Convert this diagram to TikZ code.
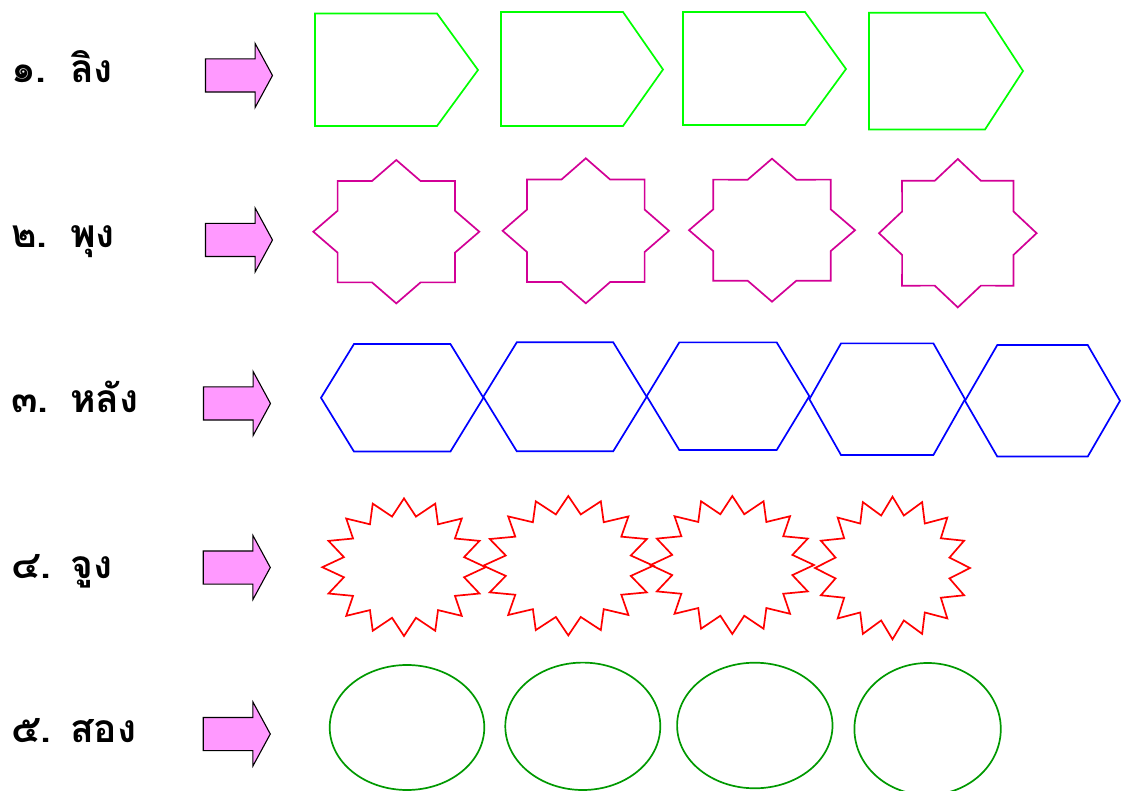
\documentclass[tikz,border=0pt]{standalone}
\usepackage{fontspec}
\newfontfamily\thaifont[Script=Thai]{Loma}
\usetikzlibrary{shapes.arrows}
\definecolor{arrowpink}{RGB}{255,153,255}
\definecolor{limegreen}{RGB}{0,255,0}
\definecolor{starmagenta}{RGB}{210,0,150}
\definecolor{ovalgreen}{RGB}{0,153,0}
\begin{document}
\begin{tikzpicture}[x=1pt,y=-1pt,
wordnode/.style={anchor=base west, inner sep=0pt, font=\thaifont\bfseries\fontsize{39}{41}\selectfont},
pinkarrow/.style={single arrow, draw=black, fill=arrowpink, line width=1.1pt, inner xsep=0pt, inner ysep=16pt, minimum height=67pt, single arrow head extend=15.5pt, single arrow tip angle=123},
homeplate/.style={draw=limegreen, line width=1.7pt, line join=miter},
eightstar/.style={draw=starmagenta, line width=1.7pt},
hexline/.style={draw=blue, line width=1.7pt},
burst/.style={draw=red, line width=1.7pt},
ovalline/.style={draw=ovalgreen, line width=1.7pt},
]
\clip (0,0) rectangle (1125,791);
\fill[white] (0,0) rectangle (1125,791);

\foreach \i/\y/\n/\w in {1/83/๑./ลิง, 2/248/๒./พุง, 3/413/๓./หลัง, 4/578/๔./จูง, 5/742/๕./สอง}{
  \node[wordnode] (num\i) at (11,\y) {\n};
  \node[wordnode] (word\i) at (70,\y) {\w};
}

\foreach \i/\x/\y in {1/234.5/75.5, 2/234.5/240, 3/232.5/403.5, 4/232.3/567.5, 5/232.3/734}
  \node[pinkarrow] (arrow\i) at (\x,\y) {};

\foreach \l/\t/\b/\c/\p/\m in {315/13.5/126/437/478/70, 501/12/126/623/663/69.5, 683/12/125/805/846/69, 869/12.7/129.5/985/1023/71}
  \draw[homeplate] (\l,\t) -- (\c,\t) -- (\p,\m) -- (\c,\b) -- (\l,\b) -- cycle;

\foreach \cx/\cy/\a/\b in {396.3/231.7/83/71.7, 585.8/230.8/83.2/72.5, 772/230.2/83/71.5, 957.8/233.2/78.8/74.2}
  \draw[eightstar, shift={(\cx,\cy)}] (0:{\a} and {\b})
    \foreach \k in {0,...,7} { -- ({\k*45+22.5}:{0.765*\a} and {0.765*\b}) -- ({\k*45+45}:{\a} and {\b}) } -- cycle;

\foreach \cx/\cy/\a/\b/\c in {402.2/397.8/81.2/53.8/48.2, 565/396.8/81.7/54.5/48.2, 728/396.2/81.3/53.8/48.7, 887.2/399.2/77.8/55.8/46.2, 1042.5/400.8/77.5/55.8/45.2}
  \draw[hexline, shift={(\cx,\cy)}] (-\a,0) -- (-\c,-\b) -- (\c,-\b) -- (\a,0) -- (\c,\b) -- (-\c,\b) -- cycle;

\foreach \cx/\cy/\a/\b in {404/567.2/81.7/68.8, 568.3/565.7/85/69.7, 732.3/565/81.7/69, 892.5/568/77.5/71.3}
  \draw[burst, shift={(\cx,\cy)}] (0:{\a} and {\b})
    \foreach \k in {0,...,15} { -- ({\k*22.5+11.25}:{0.75*\a} and {0.75*\b}) -- ({\k*22.5+22.5}:{\a} and {\b}) } -- cycle;

\foreach \cx/\cy/\a/\b in {407/727.5/77.3/62.5, 582.8/726.3/77.5/63.7, 754.8/725.5/77.7/62.8, 927.6/729/73.2/66}
  \draw[ovalline] (\cx,\cy) ellipse [x radius=\a, y radius=\b];
\end{tikzpicture}
\end{document}
